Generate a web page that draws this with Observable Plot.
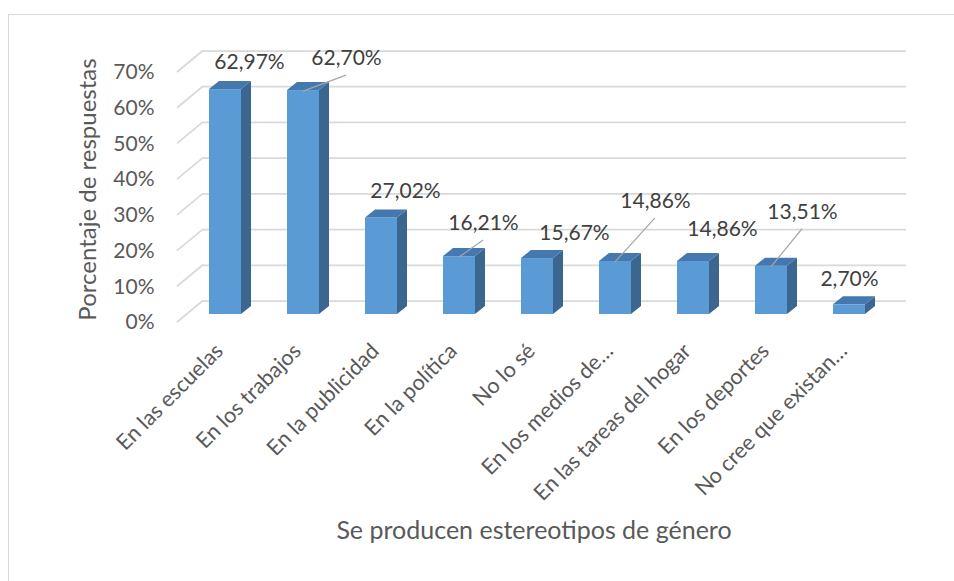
<!DOCTYPE html>
<html>
<head>
<meta charset="utf-8">
<script src="https://cdn.jsdelivr.net/npm/d3@7"></script>
<script src="https://cdn.jsdelivr.net/npm/@observablehq/plot@0.6"></script>
<style>
  html, body { margin: 0; padding: 0; background: #fff; overflow: hidden; }
  #wrap { position: relative; width: 954px; height: 581px; }
  #border { position: absolute; left: 8px; top: 14px; width: 2000px; height: 2000px; border: 1.5px solid #d9d9d9; }
  #chart { position: absolute; left: 0; top: 0; }
</style>
</head>
<body>
<div id="wrap"><div id="border"></div><div id="chart"></div></div>
<script>
const categories = ["En las escuelas", "En los trabajos", "En la publicidad", "En la política", "No lo sé", "En los medios de…", "En las tareas del hogar", "En los deportes", "No cree que existan…"];
const values = [62.97, 62.70, 27.02, 16.21, 15.67, 14.86, 14.86, 13.51, 2.70];
const yTicks = [0, 10, 20, 30, 40, 50, 60, 70];
const xTitle = "Se producen estereotipos de género";
const yTitle = "Porcentaje de respuestas";
// manual nudges (px) of the data labels as placed in the original chart, and which have leader lines
const labelNudges = [[24, -27], [43, -32], [24, -27], [24, -33], [37, -25], [40, -60], [29, -32], [31, -54], [0, -26]];
const hasLeader = [false, true, false, true, false, true, false, true, false];

const fmt = v => v.toFixed(2).replace(".", ",") + "%";
const data = categories.map((c, i) => ({cat: c, value: values[i], label: fmt(values[i]), nudge: labelNudges[i], leader: hasLeader[i]}));

const FONT = "Lato, 'Open Sans', sans-serif";
const DEPTH_X = 10, DEPTH_Y = -8;      // bar depth
const WALL_X = 18, WALL_Y = -13.5;     // back wall offset from the bar plane
const FRONT_X = -8, FRONT_Y = 8;       // front plane offset from the bar plane

function bw(sx) {
  if (typeof sx.bandwidth === "function") return sx.bandwidth();
  return sx.bandwidth || 0;
}

// left wall diagonal lines, through the y scale
const wallMark = Plot.ruleY(yTicks, {
  render: (index, scales, values, dims) => {
    const g = d3.create("svg:g");
    for (const i of index) {
      const y = scales.y(yTicks[i]);
      const x = dims.marginLeft;
      g.append("line")
        .attr("x1", x + FRONT_X).attr("y1", y + FRONT_Y)
        .attr("x2", x + WALL_X).attr("y2", y + WALL_Y)
        .attr("stroke", "#d9d9d9").attr("stroke-width", 1.75);
    }
    return g.node();
  }
});

// side and top faces of the 3D bars
const facesMark = Plot.barY(data, {
  x: "cat", y: "value",
  render: (index, scales, values, dims) => {
    const g = d3.create("svg:g");
    const w = bw(scales.x);
    for (const i of index) {
      const d = data[i];
      const x0 = scales.x(d.cat), x1 = x0 + w;
      const yT = scales.y(d.value), yB = scales.y(0);
      g.append("polygon")
        .attr("points", [[x1, yT], [x1 + DEPTH_X, yT + DEPTH_Y], [x1 + DEPTH_X, yB + DEPTH_Y], [x1, yB]].map(p => p.join(",")).join(" "))
        .attr("fill", "#3A6690");
      g.append("polygon")
        .attr("points", [[x0, yT], [x0 + DEPTH_X, yT + DEPTH_Y], [x1 + DEPTH_X, yT + DEPTH_Y], [x1, yT]].map(p => p.join(",")).join(" "))
        .attr("fill", "#4478AE");
    }
    return g.node();
  }
});

// leader lines from moved labels to bar tops
const leaderData = data.filter(d => d.leader);
const leaderMark = Plot.barY(leaderData, {
  x: "cat", y: "value",
  render: (index, scales, values, dims) => {
    const g = d3.create("svg:g");
    const w = bw(scales.x);
    for (const i of index) {
      const d = leaderData[i];
      const xc = scales.x(d.cat) + w / 2;
      const yT = scales.y(d.value);
      g.append("line")
        .attr("x1", xc + d.nudge[0]).attr("y1", yT + d.nudge[1] + 17)
        .attr("x2", xc).attr("y2", yT + 1)
        .attr("stroke", "#a6a6a6").attr("stroke-width", 1.2);
    }
    return g.node();
  }
});

const labelMarks = data.map(d => Plot.text([d], {
  x: "cat", y: "value", text: "label",
  dx: d.nudge[0], dy: d.nudge[1],
  fontSize: 21, fill: "#404040", textAnchor: "middle", lineAnchor: "middle"
}));

const chart = Plot.plot({
  width: 954,
  height: 581,
  marginLeft: 185,
  marginRight: 66,
  marginTop: 64,
  marginBottom: 267,
  style: {fontFamily: FONT, color: "#595959", background: "transparent", overflow: "visible"},
  x: {domain: categories, paddingInner: 0.594, paddingOuter: 0.297, label: null},
  y: {domain: [0, 70], label: null},
  marks: [
    Plot.ruleY(yTicks, {stroke: "#d9d9d9", strokeWidth: 1.75, dx: WALL_X, dy: WALL_Y}),
    wallMark,
    Plot.axisY(yTicks, {tickSize: 0, tickPadding: 31, dy: FRONT_Y, tickFormat: d => d + "%", fontSize: 21, label: null}),
    Plot.axisX({tickSize: 0, tickRotate: -45, tickPadding: 33, dx: -6, fontSize: 21.6, label: null}),
    Plot.barY(data, {x: "cat", y: "value", fill: "#5B9BD5"}),
    facesMark,
    leaderMark,
    ...labelMarks,
    Plot.text([yTitle], {frameAnchor: "left", dx: -97, rotate: -90, textAnchor: "middle", fontSize: 24, fill: "#595959"}),
    Plot.text([xTitle], {frameAnchor: "bottom", dx: -3, dy: 224, fontSize: 25, fill: "#595959"})
  ]
});
document.getElementById("chart").appendChild(chart);
</script>
</body>
</html>
